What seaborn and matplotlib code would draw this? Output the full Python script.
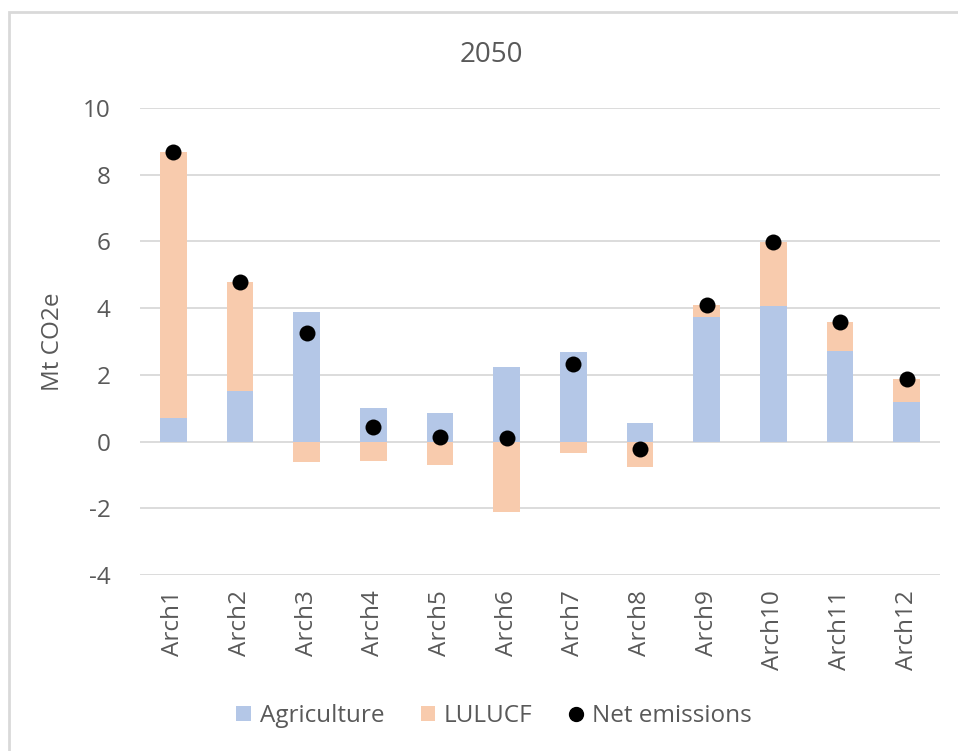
import matplotlib
matplotlib.use("Agg")
import matplotlib.pyplot as plt
from matplotlib.patches import Rectangle, Patch
from matplotlib.lines import Line2D
import seaborn as sns
import pandas as pd

# Emissions by archetype in 2050 (Mt CO2e)
archetypes = ["Arch1", "Arch2", "Arch3", "Arch4", "Arch5", "Arch6",
              "Arch7", "Arch8", "Arch9", "Arch10", "Arch11", "Arch12"]
agriculture = [0.72, 1.52, 3.88, 1.02, 0.87, 2.23, 2.68, 0.57, 3.73, 4.07, 2.72, 1.18]
lulucf = [7.97, 3.27, -0.62, -0.58, -0.70, -2.12, -0.35, -0.77, 0.37, 1.91, 0.85, 0.69]
net_emissions = [8.69, 4.79, 3.26, 0.43, 0.15, 0.10, 2.34, -0.22, 4.10, 5.98, 3.57, 1.87]

df = pd.DataFrame({"arch": archetypes, "agri": agriculture,
                   "lulucf": lulucf, "net": net_emissions})
# positive LULUCF stacks on top of agriculture, negative hangs below zero
lulucf_base = [a if l > 0 else 0.0 for a, l in zip(agriculture, lulucf)]

AGRI_C = "#B4C7E7"
LULUCF_C = "#F8CBAD"
TEXT_C = "#595959"
GRID_C = "#D9D9D9"
FS = 17.5

sns.set_theme(style="white")
plt.rcParams["font.family"] = ["Open Sans", "DejaVu Sans"]

fig = plt.figure(figsize=(9.58, 7.51), dpi=100)
ax = fig.add_axes([140 / 958, 1 - 575 / 751, 800 / 958, 467 / 751])

sns.barplot(data=df, x="arch", y="agri", order=archetypes, color=AGRI_C,
            width=0.4, saturation=1, linewidth=0, ax=ax, zorder=2)
sns.barplot(data=df, x="arch", y="lulucf", order=archetypes, color=LULUCF_C,
            width=0.4, saturation=1, linewidth=0, bottom=lulucf_base,
            ax=ax, zorder=2)
sns.stripplot(data=df, x="arch", y="net", order=archetypes, color="black",
              jitter=False, size=11.5, linewidth=0, ax=ax, zorder=4)

ax.set_ylim(-4, 10)
ax.set_xlim(-0.5, len(archetypes) - 0.5)
ax.set_yticks(range(-4, 11, 2))
ax.set_yticklabels([str(v) for v in range(-4, 11, 2)])
ax.yaxis.grid(True, color=GRID_C, linewidth=1.3)
ax.set_axisbelow(True)
for s in ax.spines.values():
    s.set_visible(False)

ax.tick_params(axis="y", length=0, pad=21, labelsize=FS, labelcolor=TEXT_C)
ax.tick_params(axis="x", length=0, pad=11, labelsize=FS, labelcolor=TEXT_C,
               labelrotation=90)
ax.set_xlabel("")
ax.set_ylabel("Mt CO2e", color=TEXT_C, fontsize=FS)
ax.yaxis.set_label_coords(-75 / 800, 0.5)

fig.text(491 / 958, 1 - 55 / 751, "2050", ha="center", va="center",
         fontsize=20, color=TEXT_C)

handles = [
    Patch(facecolor=AGRI_C, edgecolor="none", label="Agriculture"),
    Patch(facecolor=LULUCF_C, edgecolor="none", label="LULUCF"),
    Line2D([], [], marker="o", linestyle="none", color="black",
           markersize=10, label="Net emissions"),
]
fig.legend(handles=handles, loc="center", ncol=3, frameon=False,
           bbox_to_anchor=(494 / 958, 1 - 716 / 751), fontsize=FS,
           labelcolor=TEXT_C, handlelength=0.6, handleheight=0.6,
           handletextpad=0.35, columnspacing=1.5)

# light outer frame of the chart area
fig.patches.append(Rectangle((9 / 958, -0.05), 1.2, 1 - 12 / 751 + 0.05,
                             transform=fig.transFigure, fill=False,
                             edgecolor=GRID_C, linewidth=2, zorder=0))

fig.savefig("out.png", dpi=100, facecolor="white")
